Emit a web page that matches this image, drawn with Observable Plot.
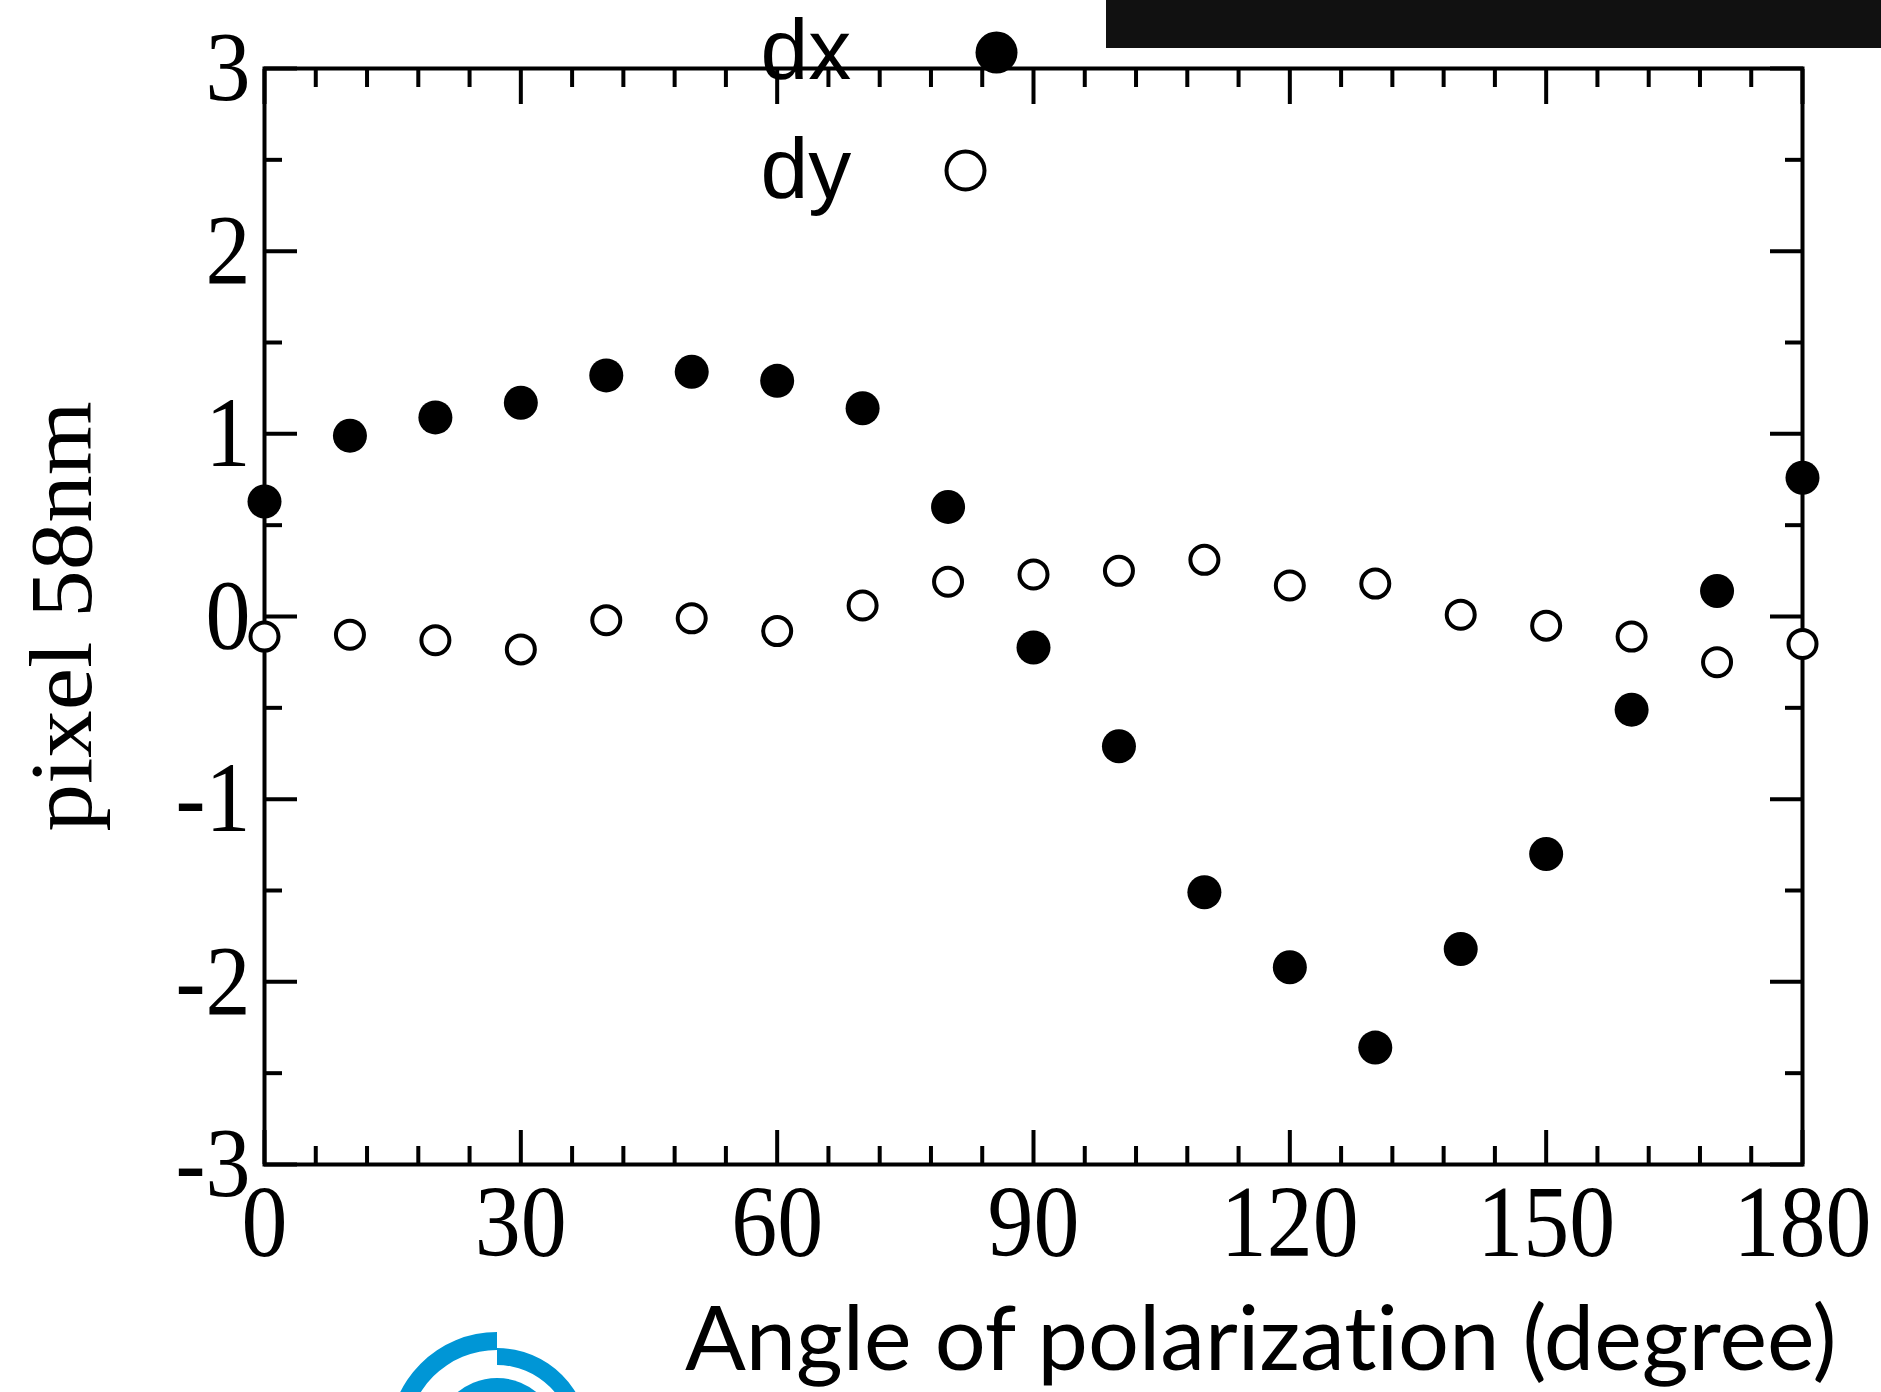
<!DOCTYPE html>
<html>
<head>
<meta charset="utf-8">
<script src="https://cdn.jsdelivr.net/npm/d3@7"></script>
<script src="https://cdn.jsdelivr.net/npm/@observablehq/plot@0.6"></script>
<style>
html, body { margin: 0; padding: 0; background: #fff; }
#wrap { position: relative; width: 1881px; height: 1392px; overflow: hidden; background: #fff; }
#chart { position: absolute; left: 0; top: 0; }
#chart text { font-variant-ligatures: none; font-feature-settings: "liga" 0, "clig" 0; }
#bar { position: absolute; left: 1106px; top: 0; width: 775px; height: 48px; background: #111; }
#logo { position: absolute; left: 0; top: 0; pointer-events: none; }
</style>
</head>
<body>
<div id="wrap">
  <div id="chart"></div>
  <div id="bar"></div>
  <svg id="logo" width="1881" height="1392" viewBox="0 0 1881 1392">
    <path d="M 389,1440 A 108 108 0 0 1 497,1332 L 497,1350 A 90 90 0 0 0 407,1440 Z" fill="#0096d6"/>
    <path d="M 497,1348 A 92 92 0 0 1 589,1440 L 572,1440 A 75 75 0 0 0 497,1365 Z" fill="#0096d6"/>
    <circle cx="497" cy="1440" r="62" fill="#0096d6"/>
  </svg>
</div>
<script>
// ---- data ----
const angles = [0, 10, 20, 30, 40, 50, 60, 70, 80, 90, 100, 110, 120, 130, 140, 150, 160, 170, 180];
const dxValues = [0.63, 0.99, 1.09, 1.17, 1.32, 1.34, 1.29, 1.14, 0.60, -0.17, -0.71, -1.51, -1.92, -2.36, -1.82, -1.30, -0.51, 0.14, 0.76];
const dyValues = [-0.11, -0.10, -0.13, -0.18, -0.02, -0.01, -0.08, 0.06, 0.19, 0.23, 0.25, 0.31, 0.17, 0.18, 0.01, -0.05, -0.11, -0.25, -0.15];

const xMajorTicks = [0, 30, 60, 90, 120, 150, 180];
const xMinorTicks = [6, 12, 18, 24, 36, 42, 48, 54, 66, 72, 78, 84, 96, 102, 108, 114, 126, 132, 138, 144, 156, 162, 168, 174];
const yMajorTicks = [-3, -2, -1, 0, 1, 2, 3];
const yMinorTicks = [-2.5, -1.5, -0.5, 0.5, 1.5, 2.5];

const seriesNames = ["dx", "dy"];
const xLabel = "Angle of polarization (degree)";
const yLabel = "pixel 58nm";

const rows = angles.map((a, i) => ({angle: a, dx: dxValues[i], dy: dyValues[i]}));

const serif = "'Liberation Serif', 'Times New Roman', Times, serif";
const sans = "'Liberation Sans', Arial, sans-serif";
const labelSans = "Lato, 'Open Sans', sans-serif";
const fmt = d => String(d);

const chart = Plot.plot({
  width: 1881,
  height: 1392,
  marginLeft: 264,
  marginRight: 79,
  marginTop: 68,
  marginBottom: 228,
  style: {background: "transparent", color: "black", overflow: "visible"},
  x: {domain: [0, 180]},
  y: {domain: [-3, 3]},
  marks: [
    Plot.frame({stroke: "black", strokeWidth: 4}),
    // inward ticks, bottom
    Plot.axisX(xMajorTicks, {anchor: "bottom", tickSize: -34, strokeWidth: 4, fill: "none", label: null}),
    Plot.axisX(xMinorTicks, {anchor: "bottom", tickSize: -18, strokeWidth: 4, fill: "none", label: null}),
    // inward ticks, top
    Plot.axisX(xMajorTicks, {anchor: "top", tickSize: -35, strokeWidth: 4, fill: "none", label: null}),
    Plot.axisX(xMinorTicks, {anchor: "top", tickSize: -18, strokeWidth: 4, fill: "none", label: null}),
    // inward ticks, left
    Plot.axisY(yMajorTicks, {anchor: "left", tickSize: -33, strokeWidth: 4, fill: "none", label: null}),
    Plot.axisY(yMinorTicks, {anchor: "left", tickSize: -18, strokeWidth: 4, fill: "none", label: null}),
    // inward ticks, right
    Plot.axisY(yMajorTicks, {anchor: "right", tickSize: -33, strokeWidth: 4, fill: "none", label: null}),
    Plot.axisY(yMinorTicks, {anchor: "right", tickSize: -18, strokeWidth: 4, fill: "none", label: null}),
    // tick labels
    Plot.axisX(xMajorTicks, {anchor: "bottom", tickSize: 0, tickPadding: 20, fontSize: 92, fontFamily: serif, tickFormat: fmt, label: null}),
    Plot.axisY(yMajorTicks, {anchor: "left", tickSize: 0, tickPadding: 14, fontSize: 90, fontFamily: serif, tickFormat: fmt,
      label: yLabel, labelAnchor: "center", labelOffset: 236, labelArrow: "none"}),
    // data
    Plot.dot(rows, {x: "angle", y: "dx", r: 17, fill: "black"}),
    Plot.dot(rows, {x: "angle", y: "dy", r: 14, stroke: "black", strokeWidth: 4, fill: "white"}),
    // x-axis title
    Plot.text([xLabel], {text: d => d, frameAnchor: "bottom-right", textAnchor: "end", lineAnchor: "middle",
      dx: 34, dy: 177, fontSize: 90, fontFamily: labelSans}),
    // legend
    Plot.text([seriesNames[0]], {text: d => d, frameAnchor: "top-left", textAnchor: "start", lineAnchor: "middle",
      dx: 496, dy: -17, fontSize: 86, fontFamily: sans}),
    Plot.dot([seriesNames[0]], {frameAnchor: "top-left", dx: 732, dy: -16, r: 21, fill: "black"}),
    Plot.text([seriesNames[1]], {text: d => d, frameAnchor: "top-left", textAnchor: "start", lineAnchor: "middle",
      dx: 496, dy: 102, fontSize: 86, fontFamily: sans}),
    Plot.dot([seriesNames[1]], {frameAnchor: "top-left", dx: 701, dy: 102, r: 19, stroke: "black", strokeWidth: 4, fill: "white"})
  ]
});

// the reference's serif glyphs are slightly taller than they are wide
const svg = d3.select(chart);
svg.selectAll('g[aria-label="x-axis tick label"] text, g[aria-label="y-axis tick label"] text').each(function () {
  const t = d3.select(this);
  t.attr("transform", (t.attr("transform") || "") + " scale(1,1.1)");
});
svg.selectAll('g[aria-label="y-axis label"]').attr("font-size", 88);
svg.selectAll('g[aria-label="y-axis label"] text').each(function () {
  const t = d3.select(this);
  t.attr("transform", (t.attr("transform") || "") + " scale(1.08,1)");
});

document.getElementById("chart").appendChild(chart);
</script>
</body>
</html>
